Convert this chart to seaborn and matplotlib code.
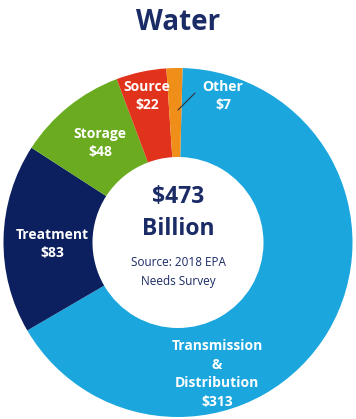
import matplotlib
matplotlib.use("Agg")
import matplotlib.pyplot as plt
import seaborn as sns

# ---- data ----
categories = ["Transmission\n&\nDistribution", "Treatment", "Storage", "Source", "Other"]
values = [313, 83, 48, 22, 7]
colors = ["#1ba6de", "#0c1f5e", "#6aab1f", "#e1321c", "#ef8f1a"]
title = "Water"
total_label = "$473\nBillion"
source_label = "Source: 2018 EPA\nNeeds Survey"

sns.set_theme(style="white")
plt.rcParams['font.family'] = ['Open Sans', 'DejaVu Sans']

W, H = 356, 419
fig = plt.figure(figsize=(W / 100, H / 100), dpi=100)
cx, cy, R = 178, 242.5, 174.5
ax = fig.add_axes([(cx - R) / W, (H - cy - R) / H, 2 * R / W, 2 * R / H])
ax.set_aspect("equal")
ax.axis("off")

wedges, _ = ax.pie(values, colors=colors, startangle=88.5, counterclock=False,
                   radius=1.0, wedgeprops=dict(width=0.51, linewidth=0),
                   center=(0, 0))
ax.set_xlim(-1, 1)
ax.set_ylim(-1, 1)

def px(x, y):
    return (x - cx) / R, (cy - y) / R

navy = "#1b2b66"
lab_kw = dict(color="white", fontsize=10, fontweight="bold", ha="center",
              va="center", linespacing=1.45)

# label positions (pixel coords of label centers)
label_pos = {
    "Transmission\n&\nDistribution": (217, 374),
    "Treatment": (52, 244),
    "Storage": (100, 143),
    "Source": (147, 96),
    "Other": (223, 96),
}
for cat, v in zip(categories, values):
    x, y = px(*label_pos[cat])
    ax.text(x, y, f"{cat}\n${v}", **lab_kw)

# leader line for "Other"
x0, y0 = px(178, 110)
x1, y1 = px(195, 93)
ax.plot([x0, x1], [y0, y1], color="#333333", lw=0.8)

# center text
x, y = px(178, 213)
ax.text(x, y, total_label, color=navy, fontsize=16.5, fontweight="bold",
        ha="center", va="center", linespacing=1.45)
x, y = px(178, 272)
ax.text(x, y, source_label, color=navy, fontsize=8.5, ha="center",
        va="center", linespacing=1.5)

fig.text(0.5, 1 - 22 / H, title, color=navy, fontsize=20, fontweight="bold",
         ha="center", va="center")

fig.savefig("out.png", dpi=100, facecolor="white")
